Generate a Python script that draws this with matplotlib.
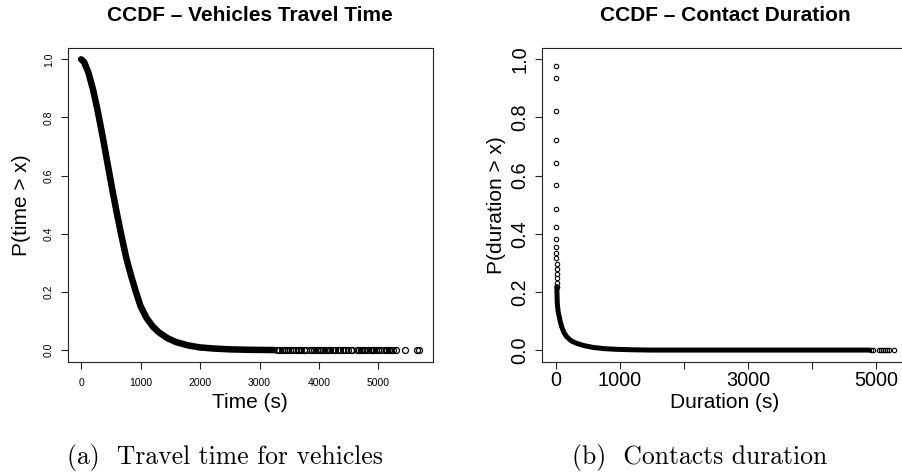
"""CCDF of the vehicles travel time and of the contact duration,
two R-style panels side by side with a caption under each"""

import matplotlib
matplotlib.use("Agg")
import matplotlib.pyplot as plt

plt.rcParams["font.family"] = ["Liberation Sans", "DejaVu Sans"]

# Vehicles travel time, dense part of the curve
TRAVEL_X = [0, 50, 120, 200, 280, 360, 440, 520, 600, 680, 760, 840, 920, 1000,
            1100, 1200, 1300, 1450, 1600, 1800, 2000, 2250, 2500, 2800, 3250]
TRAVEL_Y = [1.0, 0.99, 0.955, 0.895, 0.82, 0.735, 0.645, 0.555, 0.47, 0.39, 0.315,
            0.255, 0.2, 0.15, 0.11, 0.082, 0.062, 0.041, 0.027, 0.016, 0.009,
            0.005, 0.0025, 0.001, 0.0]

# Vehicles travel time, single circles in the tail (all at y = 0)
TRAVEL_TAIL_X = [3290, 3330, 3370, 3410, 3450, 3480, 3520, 3560, 3610, 3640, 3670,
                 3700, 3740, 3780, 3850, 3880, 3920, 3960, 4000, 4030, 4070, 4110,
                 4150, 4190, 4230, 4270, 4320, 4360, 4400, 4440, 4490, 4530, 4560,
                 4640, 4680, 4700, 4720, 4750, 4780, 4830, 4870, 4890, 4910, 4930,
                 4960, 4990, 5030, 5100, 5130, 5150, 5180, 5210, 5250, 5300, 5450,
                 5650, 5685]

# Contact duration, single circles near x = 0
CONTACT_TOP_X = [1, 2, 3, 4, 5, 6, 7, 8, 9, 10, 11, 12, 13, 14, 15, 16, 17, 18]
CONTACT_TOP_Y = [0.978, 0.935, 0.822, 0.722, 0.642, 0.568, 0.485, 0.424, 0.382,
                 0.355, 0.335, 0.315, 0.296, 0.278, 0.261, 0.247, 0.232, 0.218]

# Contact duration, dense part of the curve
CONTACT_X = [18, 25, 40, 56, 75, 94, 130, 172, 240, 328, 450, 587, 750, 952, 1200,
             1472, 2500, 3500, 4900]
CONTACT_Y = [0.218, 0.16, 0.13, 0.115, 0.095, 0.08, 0.06, 0.046, 0.032, 0.023,
             0.015, 0.009, 0.005, 0.0025, 0.001, 0.0, 0.0, 0.0, 0.0]

# Contact duration, single circles in the tail (all at y = 0)
CONTACT_TAIL_X = [4920, 4950, 5040, 5080, 5110, 5140, 5170, 5210, 5286]

Y_TICKS = [0.0, 0.2, 0.4, 0.6, 0.8, 1.0]
X_TICKS = [0, 1000, 2000, 3000, 4000, 5000]
LEFT_X_LABELS = ["0", "1000", "2000", "3000", "4000", "5000"]
RIGHT_X_LABELS = ["0", "1000", "", "3000", "", "5000"]

fig = plt.figure(figsize=(9.03, 4.74), dpi=100)

ax1 = fig.add_axes([67.7 / 903, 112.3 / 474, 365 / 903, 314 / 474])
ax2 = fig.add_axes([542.2 / 903, 112.3 / 474, 365.6 / 903, 314 / 474])

# Left panel
ax1.plot(TRAVEL_X, TRAVEL_Y, color="black", lw=4.7, solid_capstyle="round",
         solid_joinstyle="round")
ax1.plot(TRAVEL_TAIL_X, [0.0] * len(TRAVEL_TAIL_X), "o", ms=4.3, mfc="none",
         mec="black", mew=0.9)

# Right panel
ax2.plot(CONTACT_X, CONTACT_Y, color="black", lw=3.6, solid_capstyle="round",
         solid_joinstyle="round")
ax2.plot(CONTACT_TOP_X, CONTACT_TOP_Y, "o", ms=3.2, mfc="none", mec="black", mew=0.8)
ax2.plot(CONTACT_TAIL_X, [0.0] * len(CONTACT_TAIL_X), "o", ms=3.2, mfc="none",
         mec="black", mew=0.8)

for ax in (ax1, ax2):
    ax.margins(x=0.04)
    ax.set_ylim(-0.04, 1.04)
    ax.set_xticks(X_TICKS)
    ax.set_yticks(Y_TICKS)
    for s in ax.spines.values():
        s.set_linewidth(0.8)
        s.set_color("#222222")
    ax.tick_params(direction="out", length=5, width=0.8, color="#222222")

ax1.set_xticklabels(LEFT_X_LABELS)
ax1.set_yticklabels(["%.1f" % v for v in Y_TICKS], rotation=90, va="center")
ax1.tick_params(labelsize=7.5)
ax1.tick_params(axis="x", pad=6.5)
ax1.tick_params(axis="y", pad=5)

ax2.set_xticklabels(RIGHT_X_LABELS)
ax2.set_yticklabels(["%.1f" % v for v in Y_TICKS], rotation=90, va="center")
ax2.tick_params(labelsize=14.3)
ax2.tick_params(axis="x", pad=1.5)
ax2.tick_params(axis="y", pad=4.5)

# Titles and axis labels
ax1.set_title("CCDF \u2013 Vehicles Travel Time", fontsize=15, fontweight="bold", pad=19)
ax2.set_title("CCDF \u2013 Contact Duration", fontsize=15, fontweight="bold", pad=19)

ax1.set_xlabel("Time (s)", fontsize=15)
ax1.set_ylabel("P(time > x)", fontsize=15)
ax2.set_xlabel("Duration (s)", fontsize=15)
ax2.set_ylabel("P(duration > x)", fontsize=15)

ax1.xaxis.set_label_coords(0.5, (361.7 - 403) / 314)
ax1.xaxis.label.set_va("center")
ax1.yaxis.set_label_coords((21.7 - 67.7) / 365, 0.5)
ax1.yaxis.label.set_va("center")
ax2.xaxis.set_label_coords(0.5, (361.7 - 403) / 314)
ax2.xaxis.label.set_va("center")
ax2.yaxis.set_label_coords((496 - 542.2) / 365.6, 0.5)
ax2.yaxis.label.set_va("center")

# Captions under the panels
fig.text(225 / 903, 10 / 474, "(a)  Travel time for vehicles", fontsize=18.5,
         family="cmr10", ha="center", va="baseline")
fig.text(700 / 903, 10 / 474, "(b)  Contacts duration", fontsize=18.5,
         family="cmr10", ha="center", va="baseline")

plt.savefig("out.png", dpi=100)
